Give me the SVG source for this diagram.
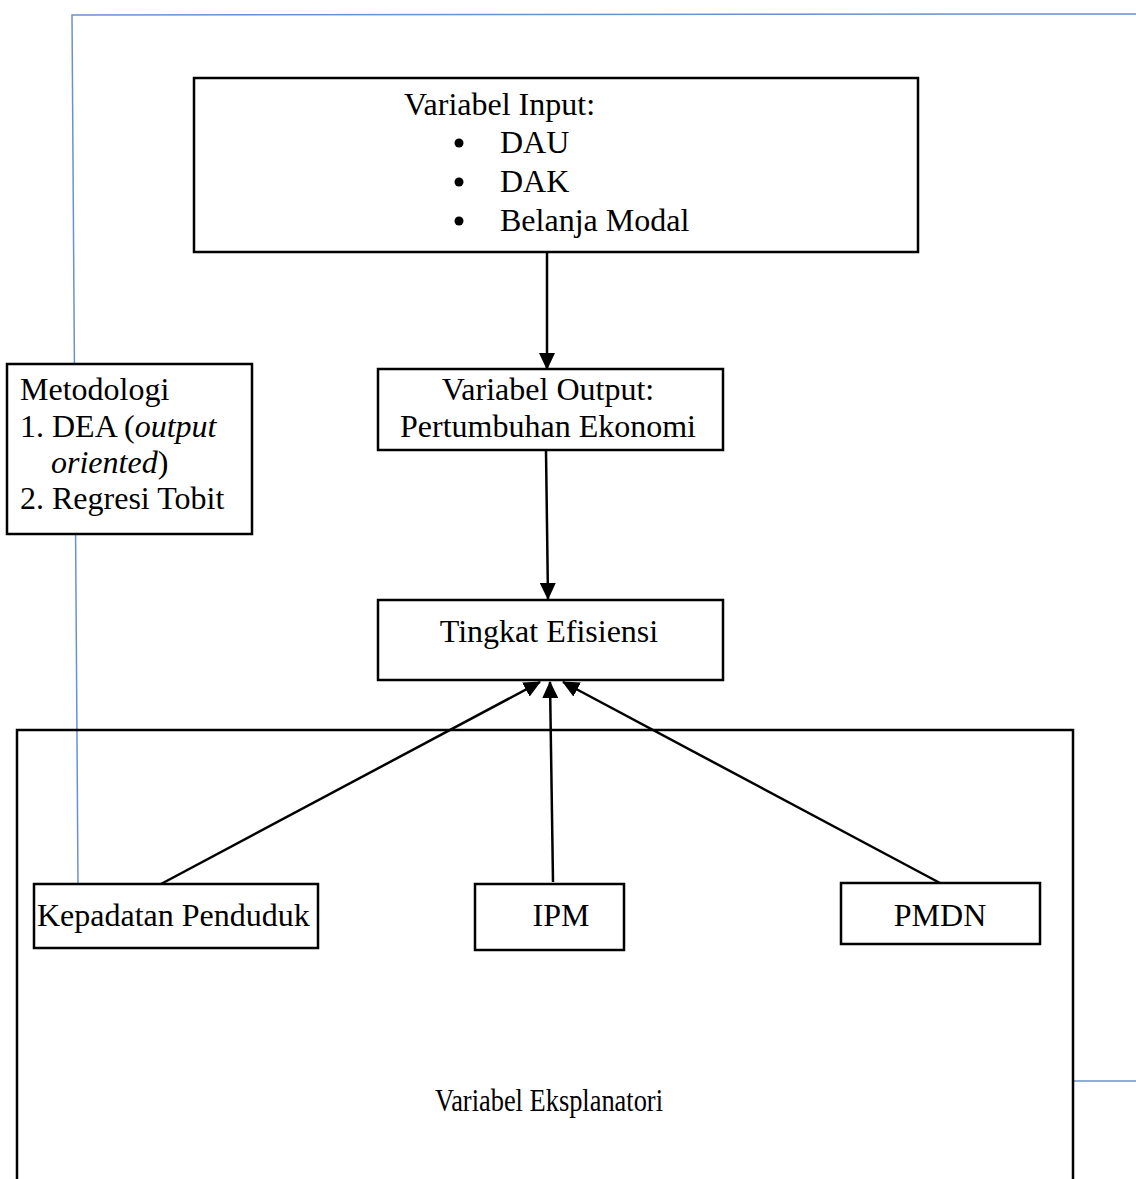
<svg xmlns="http://www.w3.org/2000/svg" width="1136" height="1179" viewBox="0 0 1136 1179">
<style>
  .box { fill: #ffffff; stroke: #000000; stroke-width: 2.5; }
  .t { font-family: "Liberation Serif", "Times New Roman", serif; font-size: 32px; fill: #000000; }
  .c { text-anchor: middle; }
  .blue { stroke: #6a90d4; stroke-width: 1.5; fill: none; }
  .conn { stroke: #000000; stroke-width: 2.5; fill: none; marker-end: url(#arr); }
</style>
<defs>
  <marker id="arr" markerUnits="userSpaceOnUse" markerWidth="17" markerHeight="16" refX="16" refY="8" orient="auto">
    <path d="M0,0 L17,8 L0,16 Z" fill="#000000"/>
  </marker>
</defs>
<rect width="1136" height="1179" fill="#ffffff"/>

<g id="guides">
  <polyline class="blue" points="1136,14 72,15 78,884"/>
  <line class="blue" x1="1073" y1="1081" x2="1136" y2="1081"/>
</g>

<g id="explanatory-frame">
  <rect x="17" y="730" width="1056" height="480" fill="none" stroke="#000" stroke-width="2.5"/>
  <text class="t c" x="549" y="1111" font-size="28" textLength="228" lengthAdjust="spacingAndGlyphs">Variabel Eksplanatori</text>
</g>

<g id="input">
  <rect class="box" x="194" y="78" width="724" height="174"/>
  <text class="t" x="404" y="115">Variabel Input:</text>
  <circle cx="459" cy="143" r="4.5" fill="#000"/>
  <text class="t" x="500" y="153">DAU</text>
  <circle cx="459" cy="182" r="4.5" fill="#000"/>
  <text class="t" x="500" y="192">DAK</text>
  <circle cx="459" cy="221" r="4.5" fill="#000"/>
  <text class="t" x="500" y="231">Belanja Modal</text>
</g>

<g id="metodologi">
  <rect class="box" x="7" y="364" width="245" height="170"/>
  <text class="t" x="20" y="400">Metodologi</text>
  <text class="t" x="20" y="437">1. DEA (<tspan font-style="italic">output</tspan></text>
  <text class="t" x="51" y="473"><tspan font-style="italic">oriented</tspan>)</text>
  <text class="t" x="20" y="509">2. Regresi Tobit</text>
</g>

<g id="output">
  <rect class="box" x="378" y="369" width="345" height="81"/>
  <text class="t c" x="548" y="400">Variabel Output:</text>
  <text class="t c" x="548" y="437">Pertumbuhan Ekonomi</text>
</g>

<g id="efisiensi">
  <rect class="box" x="378" y="600" width="345" height="80"/>
  <text class="t c" x="549" y="642">Tingkat Efisiensi</text>
</g>

<g id="kepadatan">
  <rect class="box" x="34" y="884" width="284" height="64"/>
  <text class="t" x="37" y="926">Kepadatan Penduduk</text>
</g>

<g id="ipm">
  <rect class="box" x="475" y="884" width="149" height="66"/>
  <text class="t c" x="561" y="926">IPM</text>
</g>

<g id="pmdn">
  <rect class="box" x="841" y="883" width="199" height="61"/>
  <text class="t c" x="940" y="926">PMDN</text>
</g>

<g id="connectors">
  <line class="conn" x1="547" y1="253" x2="547" y2="369"/>
  <line class="conn" x1="546" y1="451" x2="548" y2="599"/>
  <line class="conn" x1="161" y1="884" x2="540" y2="682"/>
  <line class="conn" x1="553" y1="882" x2="550" y2="682"/>
  <line class="conn" x1="940" y1="883" x2="563" y2="682"/>
</g>
</svg>
